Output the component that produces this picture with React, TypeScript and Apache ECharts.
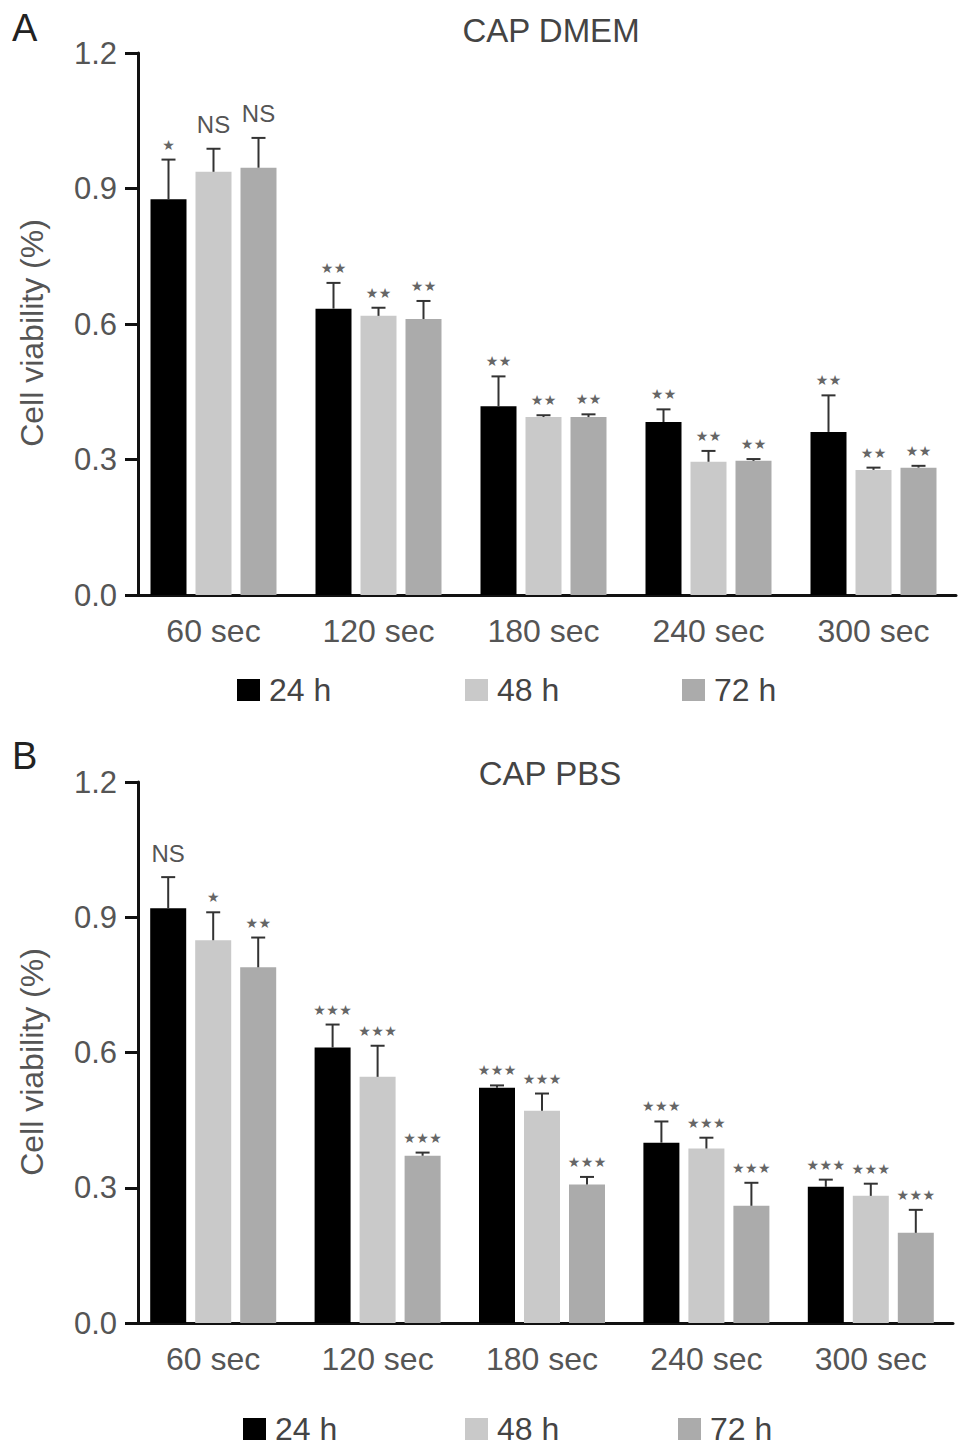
import * as echarts from 'echarts';
import React, { useEffect, useRef } from 'react';

const categories = ['60 sec', '120 sec', '180 sec', '240 sec', '300 sec'];
const groups = ['24 h', '48 h', '72 h'];
const colors = ['#000000', '#c9c9c9', '#ababab'];
const yMax = 1.2;
const yStep = 0.3;

// CAP DMEM
const dmem24 = [0.876, 0.634, 0.418, 0.383, 0.361];
const dmem48 = [0.937, 0.618, 0.394, 0.295, 0.277];
const dmem72 = [0.946, 0.611, 0.394, 0.297, 0.282];
const dmemErr24 = [0.088, 0.057, 0.066, 0.028, 0.081];
const dmemErr48 = [0.051, 0.018, 0.004, 0.024, 0.005];
const dmemErr72 = [0.066, 0.04, 0.006, 0.004, 0.004];
const dmemSig24 = ['*', '**', '**', '**', '**'];
const dmemSig48 = ['NS', '**', '**', '**', '**'];
const dmemSig72 = ['NS', '**', '**', '**', '**'];

// CAP PBS
const pbs24 = [0.92, 0.611, 0.522, 0.4, 0.302];
const pbs48 = [0.849, 0.546, 0.471, 0.387, 0.282];
const pbs72 = [0.789, 0.371, 0.307, 0.26, 0.2];
const pbsErr24 = [0.069, 0.051, 0.005, 0.047, 0.016];
const pbsErr48 = [0.062, 0.069, 0.038, 0.024, 0.027];
const pbsErr72 = [0.066, 0.007, 0.017, 0.051, 0.051];
const pbsSig24 = ['NS', '***', '***', '***', '***'];
const pbsSig48 = ['*', '***', '***', '***', '***'];
const pbsSig72 = ['**', '***', '***', '***', '***'];

const BAR_W = 36;
const BAR_GAP = 9;
const TEXT = '#555555';
const AXIS = '#111111';
const FONT = '"Liberation Sans", Arial, sans-serif';

const barSeries = (idx: number, name: string, values: number[], color: string) => ({
  type: 'bar',
  name,
  xAxisIndex: idx,
  yAxisIndex: idx,
  data: values,
  barWidth: BAR_W,
  barGap: '25%',
  itemStyle: { color },
});

const errSeries = (idx: number, slot: number, means: number[], errs: number[], sigs: string[]) => ({
  type: 'custom',
  xAxisIndex: idx,
  yAxisIndex: idx,
  z: 3,
  data: means.map((m, i) => [i, m, m + errs[i]]),
  renderItem: (params: any, api: any) => {
    const top = api.coord([api.value(0), api.value(2)]);
    const base = api.coord([api.value(0), api.value(1)]);
    const x = top[0] + (slot - 1) * (BAR_W + BAR_GAP);
    const line = { stroke: '#333333', lineWidth: 2 };
    const children: any[] = [
      { type: 'line', shape: { x1: x, y1: base[1], x2: x, y2: top[1] }, style: line },
      { type: 'line', shape: { x1: x - 7, y1: top[1], x2: x + 7, y2: top[1] }, style: line },
    ];
    const sig = sigs[params.dataIndex];
    if (sig === 'NS') {
      children.push({
        type: 'text',
        x,
        y: top[1] - 24,
        style: { text: 'NS', fontSize: 24, fontFamily: FONT, fill: TEXT, align: 'center', verticalAlign: 'middle' },
      });
    } else {
      const n = sig.length;
      for (let k = 0; k < n; k++) {
        children.push({
          type: 'text',
          x: x + (k - (n - 1) / 2) * 13,
          y: top[1] - 15,
          style: { text: '★', fontSize: 14, fontFamily: '"DejaVu Sans"', fill: '#666666', align: 'center', verticalAlign: 'middle' },
        });
      }
    }
    return { type: 'group', children };
  },
});

const legendItems = (name: string, left: number, top: number) => ({
  data: [name],
  left,
  top,
  icon: 'rect',
  itemWidth: 23,
  itemHeight: 22,
  itemGap: 0,
  selectedMode: false,
  textStyle: { fontSize: 32, color: '#444444', fontFamily: FONT, padding: [0, 0, 0, 4] },
});

const App: React.FC = () => {
  const chartRef = useRef<HTMLDivElement>(null);

  useEffect(() => {
    document.body.style.margin = '0';
    if (!chartRef.current) return;
    const chart = echarts.init(chartRef.current, null, { renderer: 'svg' });

    const xAxis = (gridIndex: number) => ({
      type: 'category',
      gridIndex,
      data: categories,
      axisLine: { lineStyle: { color: AXIS, width: 3 } },
      axisTick: { alignWithLabel: true, length: 13, lineStyle: { color: AXIS, width: 3 } },
      axisLabel: { fontSize: 32, color: TEXT, fontFamily: FONT, margin: 20 },
    });
    const yAxis = (gridIndex: number) => ({
      type: 'value',
      gridIndex,
      min: 0,
      max: yMax,
      interval: yStep,
      offset: -7,
      axisLine: { show: true, lineStyle: { color: AXIS, width: 3 } },
      axisTick: { show: true, length: 13, lineStyle: { color: AXIS, width: 3 } },
      axisLabel: { fontSize: 31, color: TEXT, fontFamily: FONT, margin: 21, formatter: (v: number) => v.toFixed(1) },
      splitLine: { show: false },
    });

    const option: any = {
      animation: false,
      backgroundColor: '#ffffff',
      title: [
        { text: 'CAP DMEM', left: 546, top: 9, textAlign: 'center', textStyle: { fontSize: 33, fontWeight: 'normal', color: '#444444', fontFamily: FONT } },
        { text: 'CAP PBS', left: 545, top: 752, textAlign: 'center', textStyle: { fontSize: 33, fontWeight: 'normal', color: '#444444', fontFamily: FONT } },
      ],
      legend: [
        legendItems(groups[0], 232, 669),
        legendItems(groups[1], 460, 669),
        legendItems(groups[2], 677, 669),
        legendItems(groups[0], 238, 1408),
        legendItems(groups[1], 460, 1408),
        legendItems(groups[2], 673, 1408),
      ],
      grid: [
        { left: 131, top: 53, width: 825, height: 542 },
        { left: 131, top: 782, width: 822, height: 541 },
      ],
      xAxis: [xAxis(0), xAxis(1)],
      yAxis: [yAxis(0), yAxis(1)],
      graphic: [
        { type: 'text', left: 12, top: 9, style: { text: 'A', fontSize: 38, fill: '#222222', fontFamily: FONT } },
        { type: 'text', left: 12, top: 737, style: { text: 'B', fontSize: 38, fill: '#222222', fontFamily: FONT } },
        { type: 'text', x: 32, y: 333, rotation: Math.PI / 2, style: { text: 'Cell viability (%)', fontSize: 32, fill: TEXT, fontFamily: FONT, align: 'center', verticalAlign: 'middle' } },
        { type: 'text', x: 32, y: 1062, rotation: Math.PI / 2, style: { text: 'Cell viability (%)', fontSize: 32, fill: TEXT, fontFamily: FONT, align: 'center', verticalAlign: 'middle' } },
      ],
      series: [
        barSeries(0, groups[0], dmem24, colors[0]),
        barSeries(0, groups[1], dmem48, colors[1]),
        barSeries(0, groups[2], dmem72, colors[2]),
        barSeries(1, groups[0], pbs24, colors[0]),
        barSeries(1, groups[1], pbs48, colors[1]),
        barSeries(1, groups[2], pbs72, colors[2]),
        errSeries(0, 0, dmem24, dmemErr24, dmemSig24),
        errSeries(0, 1, dmem48, dmemErr48, dmemSig48),
        errSeries(0, 2, dmem72, dmemErr72, dmemSig72),
        errSeries(1, 0, pbs24, pbsErr24, pbsSig24),
        errSeries(1, 1, pbs48, pbsErr48, pbsSig48),
        errSeries(1, 2, pbs72, pbsErr72, pbsSig72),
      ],
    };

    chart.setOption(option);
    return () => chart.dispose();
  }, []);

  return <div ref={chartRef} style={{ width: '969px', height: '1454px' }} />;
};

export default App;
